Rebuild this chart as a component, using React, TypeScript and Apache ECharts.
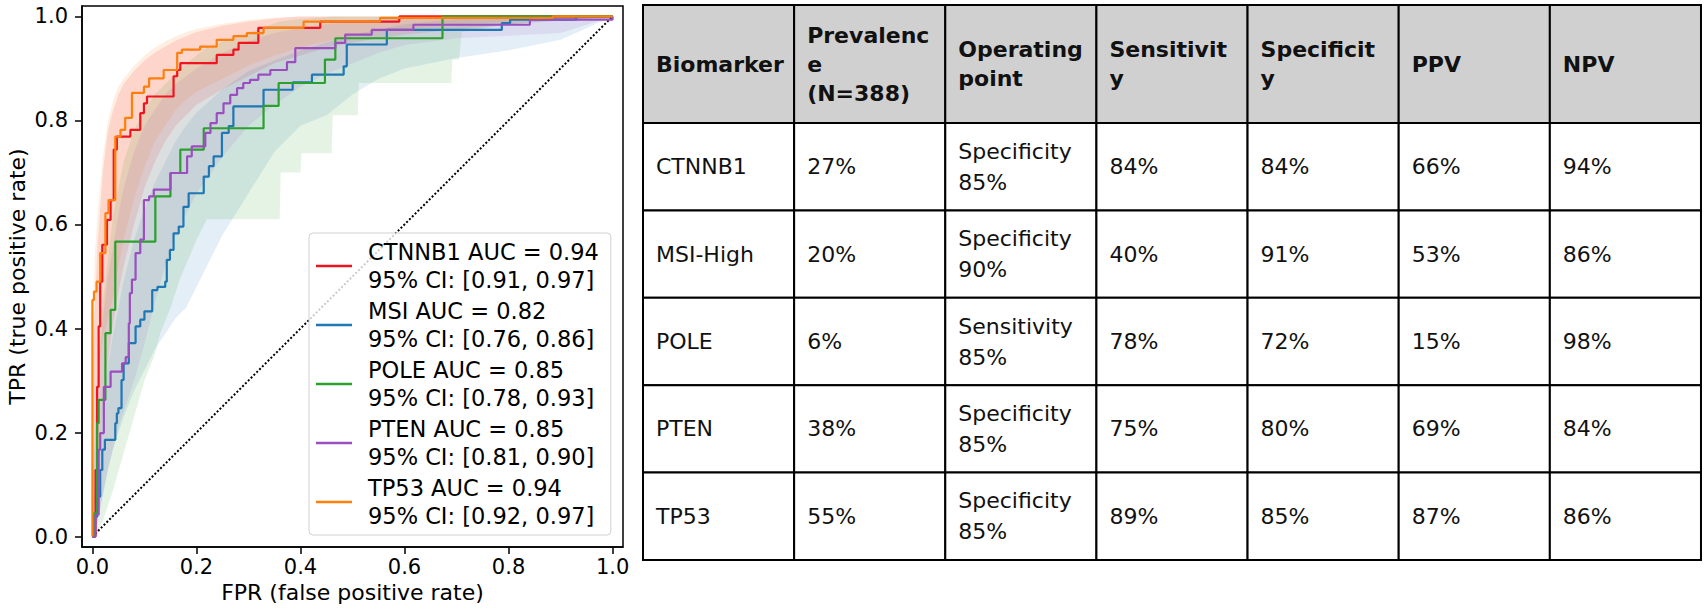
import React, { useEffect, useRef } from "react";
import * as echarts from "echarts";

// ---------- ROC data ----------
const rocNames = ["CTNNB1", "MSI", "POLE", "PTEN", "TP53"];
const rocAuc = ["0.94", "0.82", "0.85", "0.85", "0.94"];
const rocCiLow = ["0.91", "0.76", "0.78", "0.81", "0.92"];
const rocCiHigh = ["0.97", "0.86", "0.93", "0.90", "0.97"];
const rocColors = ["#f0141e", "#1f77b4", "#2ca02c", "#9b4fbe", "#ff7f0e"];

const ctnnb1Fpr = [0, 0.006, 0.009, 0.012, 0.015, 0.019, 0.028, 0.035, 0.041, 0.047, 0.073, 0.092, 0.099, 0.105, 0.156, 0.163, 0.169, 0.239, 0.271, 0.281, 0.319, 0.438, 0.59, 1];
const ctnnb1Tpr = [0, 0.128, 0.288, 0.404, 0.49, 0.561, 0.609, 0.647, 0.744, 0.769, 0.782, 0.814, 0.833, 0.846, 0.885, 0.897, 0.91, 0.926, 0.936, 0.949, 0.978, 0.99, 1, 1];

const msiFpr = [0, 0.003, 0.009, 0.015, 0.019, 0.024, 0.044, 0.047, 0.05, 0.056, 0.06, 0.07, 0.083, 0.092, 0.1, 0.115, 0.125, 0.14, 0.143, 0.149, 0.156, 0.166, 0.175, 0.185, 0.214, 0.224, 0.233, 0.249, 0.262, 0.271, 0.329, 0.385, 0.422, 0.483, 0.489, 0.566, 0.787, 0.803, 0.93, 1];
const msiTpr = [0, 0.038, 0.077, 0.128, 0.167, 0.186, 0.218, 0.237, 0.247, 0.301, 0.333, 0.372, 0.404, 0.417, 0.433, 0.474, 0.48, 0.49, 0.532, 0.551, 0.583, 0.596, 0.634, 0.66, 0.692, 0.712, 0.731, 0.776, 0.789, 0.827, 0.859, 0.873, 0.888, 0.904, 0.946, 0.974, 0.987, 0.994, 1, 1];

const poleFpr = [0, 0.003, 0.009, 0.012, 0.025, 0.035, 0.044, 0.121, 0.15, 0.169, 0.214, 0.329, 0.358, 0.447, 0.467, 0.673, 1];
const poleTpr = [0, 0.045, 0.218, 0.263, 0.391, 0.436, 0.567, 0.654, 0.699, 0.744, 0.785, 0.828, 0.872, 0.917, 0.958, 1, 1];

const ptenFpr = [0, 0.006, 0.012, 0.015, 0.022, 0.035, 0.057, 0.064, 0.07, 0.072, 0.076, 0.083, 0.092, 0.099, 0.109, 0.118, 0.15, 0.182, 0.191, 0.217, 0.227, 0.239, 0.252, 0.265, 0.278, 0.29, 0.303, 0.319, 0.342, 0.374, 0.39, 0.467, 0.486, 0.537, 0.617, 0.841, 1];
const ptenTpr = [0, 0.042, 0.167, 0.199, 0.288, 0.317, 0.333, 0.345, 0.41, 0.468, 0.494, 0.545, 0.571, 0.647, 0.654, 0.667, 0.699, 0.731, 0.75, 0.776, 0.795, 0.814, 0.833, 0.849, 0.862, 0.872, 0.878, 0.888, 0.897, 0.912, 0.939, 0.949, 0.965, 0.974, 0.984, 0.994, 1];

const tp53Fpr = [0, 0, 0.003, 0.008, 0.015, 0.025, 0.031, 0.044, 0.054, 0.063, 0.076, 0.099, 0.109, 0.137, 0.163, 0.172, 0.207, 0.239, 0.271, 0.297, 0.329, 0.406, 0.553, 0.885, 1];
const tp53Tpr = [0, 0.455, 0.471, 0.49, 0.545, 0.622, 0.647, 0.769, 0.782, 0.805, 0.853, 0.865, 0.881, 0.897, 0.93, 0.936, 0.942, 0.955, 0.962, 0.968, 0.978, 0.99, 0.997, 1, 1];

// ---------- confidence bands ----------
const bandGrid = [0, 0.005, 0.01, 0.02, 0.03, 0.04, 0.05, 0.06, 0.08, 0.1, 0.12, 0.14, 0.16, 0.18, 0.2, 0.25, 0.3, 0.35, 0.4, 0.45, 0.5, 0.55, 0.6, 0.7, 0.8, 0.9, 1];

const ctnnb1Upper = [0.3, 0.45, 0.56, 0.7, 0.78, 0.82, 0.85, 0.87, 0.895, 0.915, 0.93, 0.942, 0.953, 0.962, 0.97, 0.982, 0.99, 0.996, 1, 1, 1, 1, 1, 1, 1, 1, 1];
const ctnnb1Lower = [0, 0.08, 0.15, 0.26, 0.34, 0.41, 0.47, 0.52, 0.6, 0.67, 0.72, 0.76, 0.79, 0.81, 0.83, 0.86, 0.885, 0.91, 0.925, 0.94, 0.95, 0.958, 0.965, 0.975, 0.985, 0.992, 1];

const msiUpper = [0.05, 0.1, 0.16, 0.26, 0.33, 0.39, 0.44, 0.49, 0.57, 0.63, 0.68, 0.72, 0.76, 0.79, 0.815, 0.86, 0.895, 0.915, 0.935, 0.95, 0.965, 0.975, 0.985, 0.995, 1, 1, 1];
const msiLower = [0, 0.01, 0.03, 0.08, 0.13, 0.17, 0.2, 0.23, 0.28, 0.32, 0.36, 0.39, 0.42, 0.44, 0.48, 0.58, 0.66, 0.74, 0.79, 0.81, 0.85, 0.88, 0.9, 0.92, 0.935, 0.955, 1];

const poleBandFpr = [0, 0.01, 0.02, 0.04, 0.06, 0.08, 0.1, 0.12, 0.13, 0.15, 0.17, 0.2, 0.22, 0.36, 0.362, 0.4, 0.402, 0.46, 0.462, 0.51, 0.512, 0.69, 0.692, 0.705, 0.71, 0.8, 1];
const poleLower = [0, 0.01, 0.03, 0.09, 0.16, 0.23, 0.3, 0.35, 0.39, 0.44, 0.5, 0.57, 0.61, 0.61, 0.7, 0.7, 0.737, 0.737, 0.81, 0.81, 0.872, 0.872, 0.917, 0.917, 0.97, 0.985, 1];
const poleUpper = [0.1, 0.3, 0.45, 0.62, 0.72, 0.78, 0.82, 0.85, 0.86, 0.88, 0.9, 0.925, 0.94, 0.99, 0.99, 0.995, 0.995, 1, 1, 1, 1, 1, 1, 1, 1, 1, 1];

const ptenUpper = [0.08, 0.2, 0.3, 0.42, 0.5, 0.56, 0.62, 0.67, 0.74, 0.79, 0.82, 0.85, 0.87, 0.885, 0.9, 0.93, 0.952, 0.968, 0.978, 0.985, 0.99, 0.993, 0.996, 0.998, 1, 1, 1];
const ptenLower = [0, 0.01, 0.03, 0.08, 0.13, 0.17, 0.21, 0.24, 0.3, 0.37, 0.45, 0.52, 0.58, 0.62, 0.66, 0.73, 0.79, 0.83, 0.865, 0.89, 0.91, 0.93, 0.945, 0.958, 0.963, 0.968, 1];

const tp53Upper = [0.42, 0.55, 0.62, 0.73, 0.8, 0.84, 0.865, 0.88, 0.905, 0.925, 0.94, 0.952, 0.962, 0.97, 0.976, 0.986, 0.993, 0.998, 1, 1, 1, 1, 1, 1, 1, 1, 1];
const tp53Lower = [0, 0.2, 0.3, 0.38, 0.42, 0.46, 0.52, 0.57, 0.65, 0.71, 0.76, 0.79, 0.82, 0.84, 0.855, 0.88, 0.905, 0.925, 0.94, 0.952, 0.962, 0.97, 0.976, 0.985, 0.99, 0.995, 1];

const axisTicks = [0, 0.2, 0.4, 0.6, 0.8, 1.0];
const diagonal = [[0, 0], [1, 1]];

// ---------- table data ----------
const tableHeaders = ["Biomarker", "Prevalenc\ne\n(N=388)", "Operating\npoint", "Sensitivit\ny", "Specificit\ny", "PPV", "NPV"];
const biomarkers = ["CTNNB1", "MSI-High", "POLE", "PTEN", "TP53"];
const prevalence = ["27%", "20%", "6%", "38%", "55%"];
const operatingPoint = ["Specificity\n85%", "Specificity\n90%", "Sensitivity\n85%", "Specificity\n85%", "Specificity\n85%"];
const sensitivity = ["84%", "40%", "78%", "75%", "89%"];
const specificity = ["84%", "91%", "72%", "80%", "85%"];
const ppv = ["66%", "53%", "15%", "69%", "87%"];
const npv = ["94%", "86%", "98%", "84%", "86%"];

const PLOT_FONT = "DejaVu Sans";
const TABLE_FONT = "DejaVu Sans";

function rgba(hex: string, a: number) {
  const n = parseInt(hex.slice(1), 16);
  return `rgba(${(n >> 16) & 255},${(n >> 8) & 255},${n & 255},${a})`;
}

export default function App() {
  const ref = useRef<HTMLDivElement>(null);

  useEffect(() => {
    const chart = echarts.init(ref.current!, null, { renderer: "svg" });

    const curves = [
      [ctnnb1Fpr, ctnnb1Tpr],
      [msiFpr, msiTpr],
      [poleFpr, poleTpr],
      [ptenFpr, ptenTpr],
      [tp53Fpr, tp53Tpr],
    ];
    const bands = [
      [bandGrid, ctnnb1Lower, ctnnb1Upper],
      [bandGrid, msiLower, msiUpper],
      [poleBandFpr, poleLower, poleUpper],
      [bandGrid, ptenLower, ptenUpper],
      [bandGrid, tp53Lower, tp53Upper],
    ];
    const lineNames = rocNames.map(
      (n, i) => `${n} AUC = ${rocAuc[i]}\n95% CI: [${rocCiLow[i]}, ${rocCiHigh[i]}]`
    );

    const bandSeries = bands.map(([xs, lo, hi], i) => ({
      type: "custom",
      name: "band-" + rocNames[i],
      coordinateSystem: "cartesian2d",
      silent: true,
      z: 1,
      data: xs.map((x, k) => [x, lo[k], hi[k]]),
      encode: { x: 0, y: [1, 2] },
      renderItem: (params: any, api: any) => {
        if (params.dataIndex !== 0) return null;
        const pts: number[][] = [];
        for (let k = 0; k < xs.length; k++) pts.push(api.coord([xs[k], hi[k]]));
        for (let k = xs.length - 1; k >= 0; k--) pts.push(api.coord([xs[k], lo[k]]));
        return {
          type: "polygon",
          shape: { points: pts },
          style: { fill: rgba(rocColors[i], 0.12), stroke: "none" },
        };
      },
    }));

    const lineSeries = curves.map(([fx, ty], i) => ({
      type: "line",
      name: lineNames[i],
      step: "end",
      symbol: "none",
      z: 3,
      color: rocColors[i],
      lineStyle: { width: 2.2, color: rocColors[i] },
      data: fx.map((x, k) => [x, ty[k]]),
    }));

    const tableColumns = [biomarkers, prevalence, operatingPoint, sensitivity, specificity, ppv, npv];
    const TABLE_LEFT = 643;
    const TABLE_TOP = 5;
    const COL_W = 151.14;
    const HEADER_H = 118;
    const ROW_H = 87.4;
    const PAD = 13;
    const elements: any[] = [];
    tableHeaders.forEach((h, c) => {
      const x = TABLE_LEFT + c * COL_W;
      elements.push({
        type: "rect",
        shape: { x, y: TABLE_TOP, width: COL_W, height: HEADER_H },
        style: { fill: "#d0d0d0", stroke: "#000", lineWidth: 2 },
      });
      elements.push({
        type: "text",
        x: x + PAD,
        y: TABLE_TOP + HEADER_H / 2,
        style: {
          text: h,
          fontFamily: TABLE_FONT,
          fontWeight: "bold",
          fontSize: 22,
          lineHeight: 29,
          fill: "#111",
          align: "left",
          verticalAlign: "middle",
        },
      });
      biomarkers.forEach((_, r) => {
        const y = TABLE_TOP + HEADER_H + r * ROW_H;
        elements.push({
          type: "rect",
          shape: { x, y, width: COL_W, height: ROW_H },
          style: { fill: "#fff", stroke: "#000", lineWidth: 2 },
        });
        elements.push({
          type: "text",
          x: x + PAD,
          y: y + ROW_H / 2,
          style: {
            text: tableColumns[c][r],
            fontFamily: TABLE_FONT,
            fontSize: 22,
            lineHeight: 31,
            fill: "#111",
            align: "left",
            verticalAlign: "middle",
          },
        });
      });
    });

    const axisLabelStyle = {
      fontFamily: PLOT_FONT,
      fontSize: 21,
      color: "#000",
    };

    chart.setOption({
      animation: false,
      backgroundColor: "#fff",
      grid: {
        left: 82,
        top: 6,
        width: 541,
        height: 541,
        show: true,
        borderColor: "#000",
        borderWidth: 1.5,
        backgroundColor: "transparent",
      },
      legend: {
        data: lineNames,
        orient: "vertical",
        left: 309,
        top: 233,
        padding: [5, 12, 5, 7],
        itemGap: 3,
        itemWidth: 36,
        itemHeight: 2.5,
        icon: "rect",
        selectedMode: false,
        backgroundColor: "rgba(255,255,255,0.8)",
        borderColor: "#d0d0d0",
        borderWidth: 1,
        borderRadius: 4,
        z: 10,
        textStyle: {
          fontFamily: PLOT_FONT,
          fontSize: 22.5,
          lineHeight: 28,
          color: "#000",
          padding: [0, 0, 0, 11],
        },
      },
      xAxis: {
        type: "value",
        min: -0.02,
        max: 1.02,
        name: "FPR (false positive rate)",
        nameLocation: "middle",
        nameGap: 34,
        nameTextStyle: { fontFamily: PLOT_FONT, fontSize: 22, color: "#000" },
        splitLine: { show: false },
        axisLine: { show: true, onZero: false, lineStyle: { color: "#000", width: 1.5 } },
        axisTick: { show: true, customValues: axisTicks, length: 7, lineStyle: { color: "#000", width: 1.5 } },
        axisLabel: {
          ...axisLabelStyle,
          customValues: axisTicks,
          margin: 9,
          formatter: (v: number) => v.toFixed(1),
        },
      },
      yAxis: {
        type: "value",
        min: -0.02,
        max: 1.02,
        name: "TPR (true positive rate)",
        nameLocation: "middle",
        nameGap: 54,
        nameTextStyle: { fontFamily: PLOT_FONT, fontSize: 22, color: "#000" },
        splitLine: { show: false },
        axisLine: { show: true, onZero: false, lineStyle: { color: "#000", width: 1.5 } },
        axisTick: { show: true, customValues: axisTicks, length: 7, lineStyle: { color: "#000", width: 1.5 } },
        axisLabel: {
          ...axisLabelStyle,
          customValues: axisTicks,
          margin: 14,
          formatter: (v: number) => v.toFixed(1),
        },
      },
      series: [
        ...bandSeries,
        {
          type: "line",
          name: "chance",
          symbol: "none",
          silent: true,
          z: 2,
          lineStyle: { color: "#000", width: 2, type: [2, 2] },
          data: diagonal,
        },
        ...lineSeries,
      ],
      graphic: { elements },
    });

    return () => chart.dispose();
  }, []);

  return (
    <div
      ref={ref}
      style={{ position: "fixed", left: 0, top: 0, width: 1708, height: 614, background: "#fff" }}
    />
  );
}
